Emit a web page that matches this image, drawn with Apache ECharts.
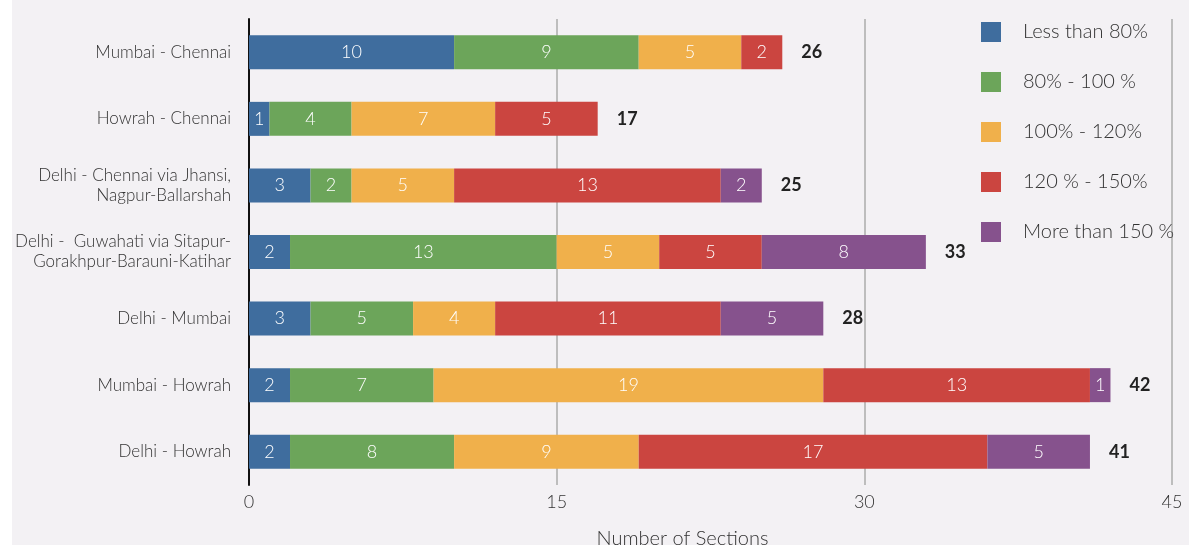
<!DOCTYPE html>
<html>
<head>
<meta charset="utf-8">
<script src="https://cdn.jsdelivr.net/npm/echarts@6/dist/echarts.min.js"></script>
<style>
  html, body { margin: 0; padding: 0; background: #fff; }
  #chart { position: absolute; left: 12px; top: 0; width: 1177px; height: 545px; background: #f3f1f4; }
</style>
</head>
<body>
<div id="chart"></div>
<script>
const routes = [
  "Mumbai - Chennai",
  "Howrah - Chennai",
  "Delhi - Chennai via Jhansi,\nNagpur-Ballarshah",
  "Delhi -  Guwahati via Sitapur-\nGorakhpur-Barauni-Katihar",
  "Delhi - Mumbai",
  "Mumbai - Howrah",
  "Delhi - Howrah"
];
const lessThan80 = [10, 1, 3, 2, 3, 2, 2];
const from80to100 = [9, 4, 2, 13, 5, 7, 8];
const from100to120 = [5, 7, 5, 5, 4, 19, 9];
const from120to150 = [2, 5, 13, 5, 11, 13, 17];
const moreThan150 = [0, 0, 2, 8, 5, 1, 5];
const xTicks = [0, 15, 30, 45];

const seriesNames = ["Less than 80%", "80% - 100 %", "100% - 120%", "120 % - 150%", "More than 150 %"];
const seriesData = [lessThan80, from80to100, from100to120, from120to150, moreThan150];
const colors = ["#3f6d9e", "#6ca55a", "#f0b04b", "#cb4540", "#86528d"];
const totals = routes.map((r, i) => seriesData.reduce((s, arr) => s + arr[i], 0));

const fontFamily = "Lato, 'Open Sans', sans-serif";

let myChart = echarts.init(document.getElementById("chart"));

const series = seriesData.map((arr, k) => ({
  name: seriesNames[k],
  type: "bar",
  stack: "total",
  data: arr.map((v) => (v === 0 ? null : v)),
  barWidth: 34,
  itemStyle: { color: colors[k] },
  label: {
    show: true,
    position: "inside",
    color: "#fff",
    fontSize: 18,
    fontWeight: 300,
    fontFamily: fontFamily,
  },
}));

// empty segment at the end of each stack, carries the bold total
series.push({
  name: "total",
  type: "bar",
  stack: "total",
  data: totals.map(() => 0),
  barWidth: 34,
  itemStyle: { color: "transparent" },
  label: {
    show: true,
    position: "right",
    distance: 19,
    color: "#222",
    fontSize: 18,
    fontWeight: "bold",
    fontFamily: fontFamily,
    formatter: (p) => totals[p.dataIndex],
  },
});

const options = {
  animation: false,
  textStyle: { fontFamily: fontFamily },
  legend: {
    data: seriesNames,
    orient: "vertical",
    left: 964,
    top: 17,
    itemWidth: 20,
    itemHeight: 20,
    itemGap: 30,
    icon: "rect",
    textStyle: { fontSize: 20, color: "#333", fontWeight: 300, padding: [0, 0, 0, 17] },
  },
  grid: {
    left: 237,
    right: 17,
    top: 19,
    bottom: 60,
    containLabel: false,
    outerBoundsMode: "none",
  },
  xAxis: {
    type: "value",
    min: xTicks[0],
    max: xTicks[xTicks.length - 1],
    interval: 15,
    name: "Number of Sections",
    nameLocation: "middle",
    nameGap: 44,
    nameTextStyle: { fontSize: 20, color: "#333", fontWeight: 300, padding: [0, 56, 0, 0] },
    axisLine: { show: false },
    axisTick: { show: false },
    axisLabel: { fontSize: 18, color: "#333", fontWeight: 300, margin: 8 },
    splitLine: { show: true, lineStyle: { color: "#bdbdbd", width: 2 } },
  },
  yAxis: {
    type: "category",
    data: routes,
    inverse: true,
    axisLine: { show: true, lineStyle: { color: "#111", width: 2 } },
    axisTick: { show: false },
    axisLabel: {
      fontSize: 17,
      color: "#333",
      fontWeight: 300,
      margin: 18,
      align: "right",
      lineHeight: 20,
    },
  },
  series: series,
};
myChart.setOption(options);
</script>
</body>
</html>
